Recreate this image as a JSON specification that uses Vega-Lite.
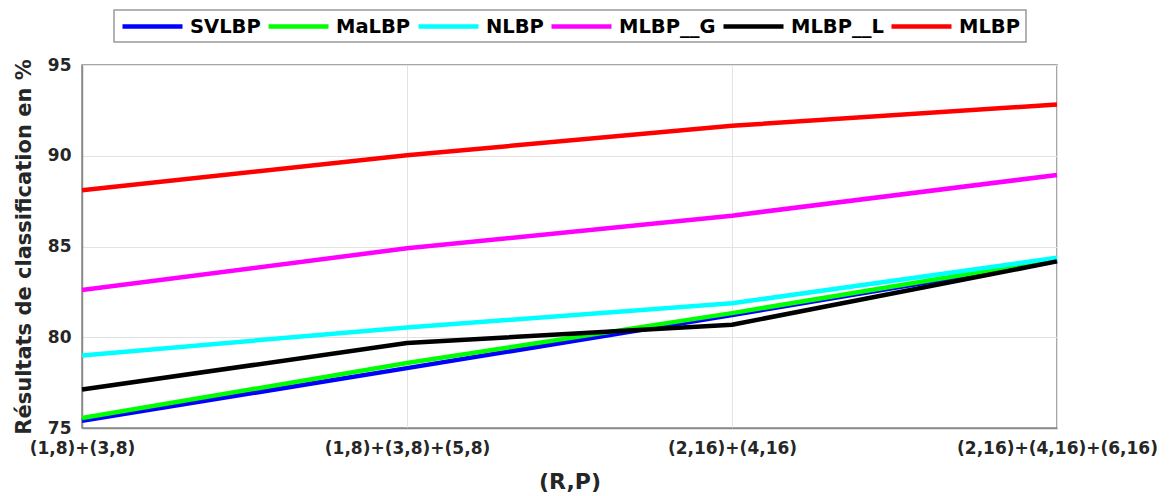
{
  "$schema": "https://vega.github.io/schema/vega-lite/v6.json",
  "autosize": "none",
  "padding": {"left": 82, "top": 65, "right": 115, "bottom": 68},
  "width": 975,
  "height": 363,
  "background": "white",
  "data": {
    "values": [
      {"rp": "(1,8)+(3,8)", "method": "SVLBP", "value": 75.4},
      {"rp": "(1,8)+(3,8)+(5,8)", "method": "SVLBP", "value": 78.3},
      {"rp": "(2,16)+(4,16)", "method": "SVLBP", "value": 81.22},
      {"rp": "(2,16)+(4,16)+(6,16)", "method": "SVLBP", "value": 84.22},
      {"rp": "(1,8)+(3,8)", "method": "MaLBP", "value": 75.55},
      {"rp": "(1,8)+(3,8)+(5,8)", "method": "MaLBP", "value": 78.58},
      {"rp": "(2,16)+(4,16)", "method": "MaLBP", "value": 81.33},
      {"rp": "(2,16)+(4,16)+(6,16)", "method": "MaLBP", "value": 84.3},
      {"rp": "(1,8)+(3,8)", "method": "NLBP", "value": 79.0},
      {"rp": "(1,8)+(3,8)+(5,8)", "method": "NLBP", "value": 80.54},
      {"rp": "(2,16)+(4,16)", "method": "NLBP", "value": 81.87},
      {"rp": "(2,16)+(4,16)+(6,16)", "method": "NLBP", "value": 84.38},
      {"rp": "(1,8)+(3,8)", "method": "MLBP__G", "value": 82.6},
      {"rp": "(1,8)+(3,8)+(5,8)", "method": "MLBP__G", "value": 84.9},
      {"rp": "(2,16)+(4,16)", "method": "MLBP__G", "value": 86.7},
      {"rp": "(2,16)+(4,16)+(6,16)", "method": "MLBP__G", "value": 88.94},
      {"rp": "(1,8)+(3,8)", "method": "MLBP__L", "value": 77.12},
      {"rp": "(1,8)+(3,8)+(5,8)", "method": "MLBP__L", "value": 79.68},
      {"rp": "(2,16)+(4,16)", "method": "MLBP__L", "value": 80.69},
      {"rp": "(2,16)+(4,16)+(6,16)", "method": "MLBP__L", "value": 84.18},
      {"rp": "(1,8)+(3,8)", "method": "MLBP", "value": 88.1},
      {"rp": "(1,8)+(3,8)+(5,8)", "method": "MLBP", "value": 90.03},
      {"rp": "(2,16)+(4,16)", "method": "MLBP", "value": 91.65},
      {"rp": "(2,16)+(4,16)+(6,16)", "method": "MLBP", "value": 92.82}
    ]
  },
  "mark": {"type": "line", "strokeWidth": 4.5, "strokeJoin": "round", "strokeCap": "butt"},
  "encoding": {
    "x": {
      "field": "rp",
      "type": "ordinal",
      "sort": null,
      "scale": {"type": "point", "padding": 0},
      "axis": {
        "title": "(R,P)",
        "labelAngle": 0,
        "labelFlush": false,
        "labelLimit": 400,
        "labelPadding": 12,
        "titlePadding": 15,
        "grid": true,
        "ticks": false,
        "titleFontSize": 22
      }
    },
    "y": {
      "field": "value",
      "type": "quantitative",
      "scale": {"domain": [75, 95], "nice": false, "zero": false},
      "axis": {
        "title": "Résultats de classification en %",
        "values": [75, 80, 85, 90, 95],
        "labelPadding": 11,
        "titlePadding": 13,
        "grid": true,
        "ticks": false,
        "titleFontSize": 21
      }
    },
    "color": {
      "field": "method",
      "type": "nominal",
      "sort": null,
      "scale": {
        "domain": ["SVLBP", "MaLBP", "NLBP", "MLBP__G", "MLBP__L", "MLBP"],
        "range": ["#0000ff", "#00ff00", "#00ffff", "#ff00ff", "#000000", "#ff0000"]
      },
      "legend": {
        "title": null,
        "orient": "none",
        "legendX": 32,
        "legendY": -55,
        "direction": "horizontal",
        "symbolType": "M-1,0H6.5",
        "symbolSize": 256,
        "symbolStrokeWidth": 4.5,
        "labelOffset": 49,
        "columnPadding": -2,
        "padding": 6,
        "strokeColor": "#9a9a9a",
        "fillColor": "white",
        "labelFont": "DejaVu Sans",
        "labelFontWeight": "bold",
        "labelFontSize": 19.5,
        "labelColor": "#000000"
      }
    }
  },
  "config": {
    "view": {"stroke": "#8a8a8a", "strokeWidth": 1.5},
    "axis": {
      "labelFont": "DejaVu Sans",
      "labelFontWeight": "bold",
      "labelFontSize": 17,
      "labelColor": "#262626",
      "titleFont": "DejaVu Sans",
      "titleFontWeight": "bold",
      "titleColor": "#262626",
      "domainColor": "#8a8a8a",
      "domainWidth": 1.5,
      "gridColor": "#e3e3e3",
      "gridWidth": 1
    },
    "legend": {"strokeWidth": 1.5}
  }
}
